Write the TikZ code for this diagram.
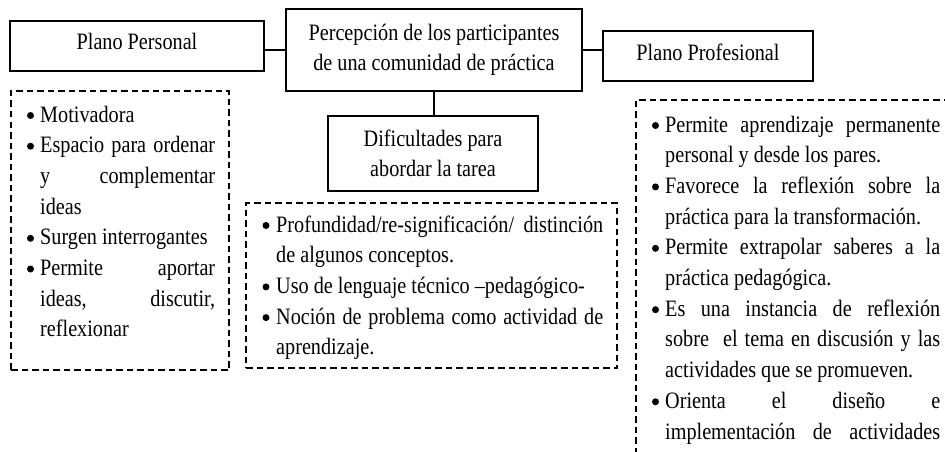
\documentclass[tikz,border=0pt]{standalone}
\usepackage{fontspec}
\setmainfont{Liberation Serif}[FakeStretch=0.86]
\newcommand\myfs{\fontsize{23.5}{29.5}\selectfont}
\tikzset{
  solidbox/.style={draw, line width=1.6pt, inner sep=0pt, align=center, font=\myfs},
  dashbox/.style={draw, line width=1.3pt, dash pattern=on 6.5pt off 4pt, inner sep=0pt},
  conn/.style={line width=2.2pt},
  itemline/.style={anchor=base west, inner sep=0pt, font=\myfs},
  dot/.style={circle, fill=black, inner sep=0pt, minimum size=7pt, yshift=1.5pt},
}
\begin{document}
\begin{tikzpicture}[x=1pt,y=-1pt]
\useasboundingbox (0,0) rectangle (945,452);
\clip (0,0) rectangle (945,452);
\fill[white] (0,0) rectangle (945,452);

% solid boxes
\node[solidbox, minimum width=254pt, minimum height=50pt, text height=14pt, text depth=6pt] (personal) at (137,46) {Plano Personal};
\node[solidbox, minimum width=296pt, minimum height=82pt] (central) at (434,50) {Percepción de los participantes\\de una comunidad de práctica};
\node[solidbox, minimum width=210pt, minimum height=50pt, text height=14pt, text depth=6pt] (profesional) at (708,56) {Plano Profesional};
\node[solidbox, minimum width=210pt, minimum height=75pt] (dificultades) at (433,153.5) {Dificultades para\\abordar la tarea};

% connectors
\draw[conn] (central.west) -- (personal.east |- central.west);
\draw[conn] (central.east) -- (profesional.west |- central.east);
\draw[conn] (central.south) -- (central.south |- dificultades.north);

% dashed boxes
\node[dashbox, minimum width=218pt, minimum height=279pt] (leftbox) at (120,230.5) {};
\node[dashbox, minimum width=371pt, minimum height=165pt] (midbox) at (431.5,285.5) {};
\node[dashbox, minimum width=324pt, minimum height=380pt] (rightbox) at (798,290) {};

% left list
\node[dot] (lb1) at (30.5,117) {};
\node[itemline] (l1) at (40,122) {Motivadora};
\node[dot] (lb2) at (30.5,147.7) {};
\node[itemline] (l2) at (40,152.7) {\makebox[175pt][s]{Espacio para ordenar}};
\node[itemline] (l3) at (40,183.4) {\makebox[175pt][s]{y complementar}};
\node[itemline] (l4) at (40,214.1) {ideas};
\node[dot] (lb3) at (30.5,239.8) {};
\node[itemline] (l5) at (40,244.8) {Surgen interrogantes};
\node[dot] (lb4) at (30.5,270.5) {};
\node[itemline] (l6) at (40,275.5) {\makebox[175pt][s]{Permite aportar}};
\node[itemline] (l7) at (40,306.2) {\makebox[175pt][s]{ideas, discutir,}};
\node[itemline] (l8) at (40,336.9) {reflexionar};

% middle list
\node[dot] (mb1) at (266,227) {};
\node[itemline] (m1) at (276,232) {\makebox[327pt][s]{Profundidad/re-significación/ distinción}};
\node[itemline] (m2) at (276,262.7) {de algunos conceptos.};
\node[dot] (mb2) at (266,288.4) {};
\node[itemline] (m3) at (276,293.4) {Uso de lenguaje técnico –pedagógico-};
\node[dot] (mb3) at (266,319.1) {};
\node[itemline] (m4) at (276,324.1) {\makebox[327pt][s]{Noción de problema como actividad de}};
\node[itemline] (m5) at (276,354.8) {aprendizaje.};

% right list
\node[dot] (rb1) at (655.5,127) {};
\node[itemline] (r1) at (665,132) {\makebox[275pt][s]{Permite aprendizaje permanente}};
\node[itemline] (r2) at (665,162.7) {personal y desde los pares.};
\node[dot] (rb2) at (655.5,188.4) {};
\node[itemline] (r3) at (665,193.4) {\makebox[275pt][s]{Favorece la reflexión sobre la}};
\node[itemline] (r4) at (665,224.1) {práctica para la transformación.};
\node[dot] (rb3) at (655.5,249.8) {};
\node[itemline] (r5) at (665,254.8) {\makebox[275pt][s]{Permite extrapolar saberes a la}};
\node[itemline] (r6) at (665,285.5) {práctica pedagógica.};
\node[dot] (rb4) at (655.5,311.2) {};
\node[itemline] (r7) at (665,316.2) {\makebox[275pt][s]{Es una instancia de reflexión}};
\node[itemline] (r8) at (665,346.9) {\makebox[275pt][s]{sobre\ \ el tema en discusión y las}};
\node[itemline] (r9) at (665,377.6) {actividades que se promueven.};
\node[dot] (rb5) at (655.5,403.3) {};
\node[itemline] (r10) at (665,408.3) {\makebox[275pt][s]{Orienta el diseño e}};
\node[itemline] (r11) at (665,439) {\makebox[275pt][s]{implementación de actividades}};
\end{tikzpicture}
\end{document}
